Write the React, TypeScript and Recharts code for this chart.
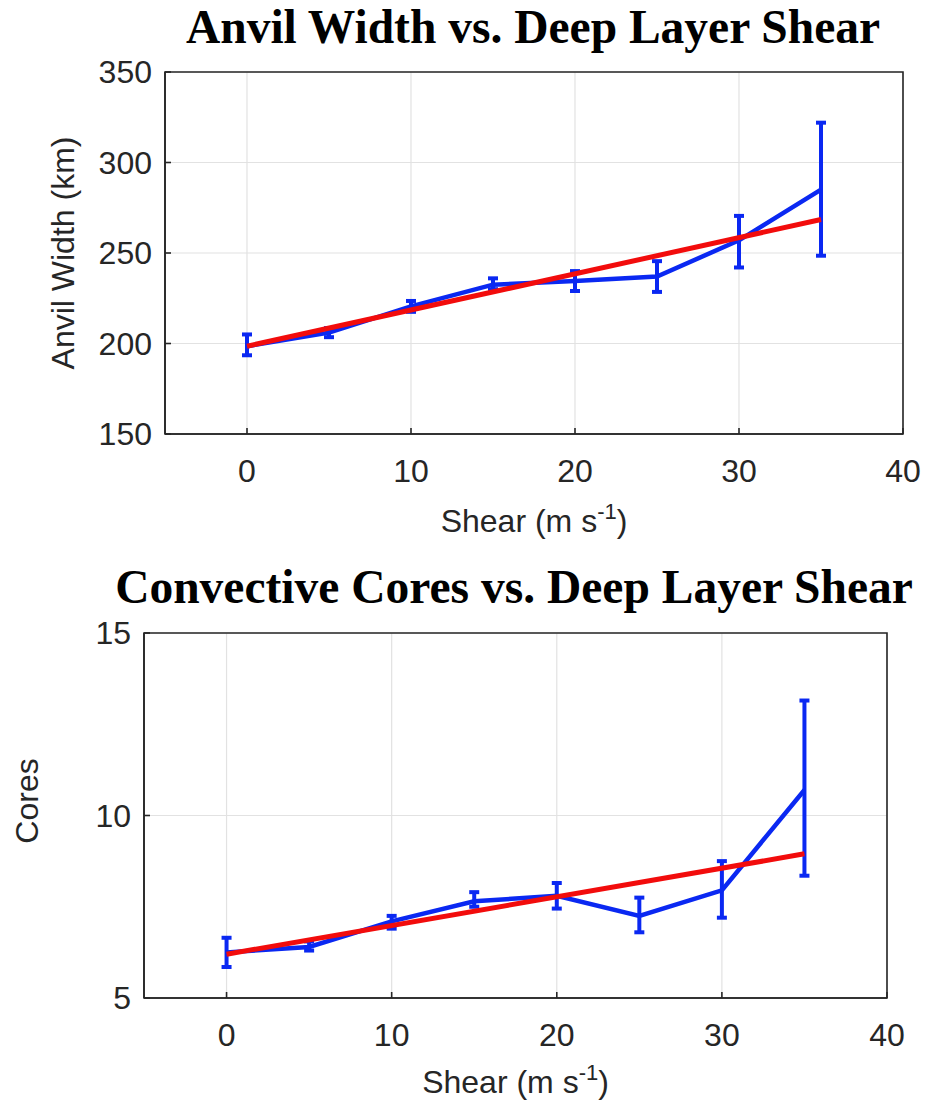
import { CartesianGrid, ErrorBar, Label, Line, LineChart, ReferenceArea, XAxis, YAxis } from 'recharts';

const shear = [0, 5, 10, 15, 20, 25, 30, 35];
const shearTicks = [0, 10, 20, 30, 40];

const anvilMean = [198.5, 206, 220.5, 232.5, 234.5, 237, 257, 285];
const anvilLow = [193.5, 203.5, 217.5, 230, 229, 228.5, 242, 248.5];
const anvilHigh = [205, 208.5, 223.5, 236, 240, 245.5, 270.5, 322];
const anvilTicks = [150, 200, 250, 300, 350];

const coresMean = [6.25, 6.4, 7.1, 7.65, 7.8, 7.25, 7.95, 10.7];
const coresLow = [5.85, 6.3, 6.9, 7.5, 7.45, 6.8, 7.2, 8.35];
const coresHigh = [6.65, 6.55, 7.25, 7.9, 8.15, 7.75, 8.75, 13.15];
const coresTicks = [5, 10, 15];

// red linear fit, end points only
const fitShear = [0, 35];
const anvilFit = [198.5, 268.5];
const coresFit = [6.2, 8.95];

const BLUE = '#0a28f2';
const RED = '#f20c0c';
const INK = '#262626';
const SANS = '"Liberation Sans", Arial, Helvetica, sans-serif';
const SERIF = '"Liberation Serif", "Times New Roman", serif';

const build = (mean: number[], low: number[], high: number[]) =>
  shear.map((x, i) => ({ x, y: mean[i], err: [mean[i] - low[i], high[i] - mean[i]] }));

const buildFit = (fit: number[]) => fitShear.map((x, i) => ({ x, fit: fit[i] }));

const tickStyle = { fill: INK, fontSize: 32, fontFamily: SANS };

const ShearLabel = ({ viewBox, dy }: any) => (
  <text
    x={viewBox.x + viewBox.width / 2}
    y={viewBox.y + dy}
    textAnchor="middle"
    fill={INK}
    fontSize={32}
    fontFamily={SANS}
  >
    Shear (m s
    <tspan dy={-13} fontSize={22}>
      -1
    </tspan>
    <tspan dy={13}>)</tspan>
  </text>
);

const YLabel = ({ x, y, text }: { x: number; y: number; text: string }) => (
  <text
    x={x}
    y={y}
    transform={`rotate(-90 ${x} ${y})`}
    textAnchor="middle"
    dominantBaseline="central"
    fill={INK}
    fontSize={32}
    fontFamily={SANS}
  >
    {text}
  </text>
);

type PanelProps = {
  top: number;
  height: number;
  axisWidth: number;
  right: number;
  data: { x: number; y: number; err: number[] }[];
  fit: { x: number; fit: number }[];
  yTicks: number[];
  yLabel: string;
  yLabelX: number;
  yLabelY: number;
  xLabelDy: number;
};

const Panel = (p: PanelProps) => {
  const yMin = p.yTicks[0];
  const yMax = p.yTicks[p.yTicks.length - 1];
  return (
    <div style={{ position: 'absolute', left: 0, top: p.top }}>
      <LineChart width={925} height={p.height} margin={{ top: 72, right: p.right, bottom: 0, left: 0 }}>
        <CartesianGrid stroke="#e2e2e2" strokeWidth={1.2} />
        <XAxis
          type="number"
          dataKey="x"
          domain={[-5, 40]}
          ticks={shearTicks}
          allowDataOverflow
          height={126}
          stroke={INK}
          strokeWidth={1.6}
          tickSize={-6}
          tickMargin={31}
          tick={tickStyle}
        >
          <Label content={(props: any) => <ShearLabel {...props} dy={p.xLabelDy} />} />
        </XAxis>
        <YAxis
          type="number"
          domain={[yMin, yMax]}
          ticks={p.yTicks}
          width={p.axisWidth}
          stroke={INK}
          strokeWidth={1.6}
          tickSize={-6}
          tickMargin={19}
          tick={tickStyle}
        >
          <Label content={() => <YLabel x={p.yLabelX} y={p.yLabelY} text={p.yLabel} />} />
        </YAxis>
        <ReferenceArea x1={-5} x2={40} y1={yMin} y2={yMax} fill="none" stroke={INK} strokeWidth={1.6} ifOverflow="visible" />
        <Line
          data={p.data}
          dataKey="y"
          stroke={BLUE}
          strokeWidth={4.5}
          dot={false}
          isAnimationActive={false}
        >
          <ErrorBar dataKey="err" width={5} stroke={BLUE} strokeWidth={4} direction="y" />
        </Line>
        <Line
          data={p.fit}
          dataKey="fit"
          stroke={RED}
          strokeWidth={5}
          dot={false}
          isAnimationActive={false}
        />
      </LineChart>
    </div>
  );
};

const App = () => (
  <div style={{ position: 'absolute', left: 0, top: 0, width: 925, height: 1105, background: '#fff' }}>
    <Panel
      top={0}
      height={560}
      axisWidth={165}
      right={22}
      data={build(anvilMean, anvilLow, anvilHigh)}
      fit={buildFit(anvilFit)}
      yTicks={anvilTicks}
      yLabel="Anvil Width (km)"
      yLabelX={63}
      yLabelY={253}
      xLabelDy={98}
    />
    <Panel
      top={561}
      height={563}
      axisWidth={144}
      right={38}
      data={build(coresMean, coresLow, coresHigh)}
      fit={buildFit(coresFit)}
      yTicks={coresTicks}
      yLabel="Cores"
      yLabelX={27}
      yLabelY={240}
      xLabelDy={95}
    />
    <svg width={925} height={1105} style={{ position: 'absolute', left: 0, top: 0, pointerEvents: 'none' }}>
      <text x={533} y={43} textAnchor="middle" fontFamily={SERIF} fontWeight="bold" fontSize={47.5} fill="#000">
        Anvil Width vs. Deep Layer Shear
      </text>
      <text x={514} y={603} textAnchor="middle" fontFamily={SERIF} fontWeight="bold" fontSize={47.5} fill="#000">
        Convective Cores vs. Deep Layer Shear
      </text>
    </svg>
  </div>
);

export default App;
